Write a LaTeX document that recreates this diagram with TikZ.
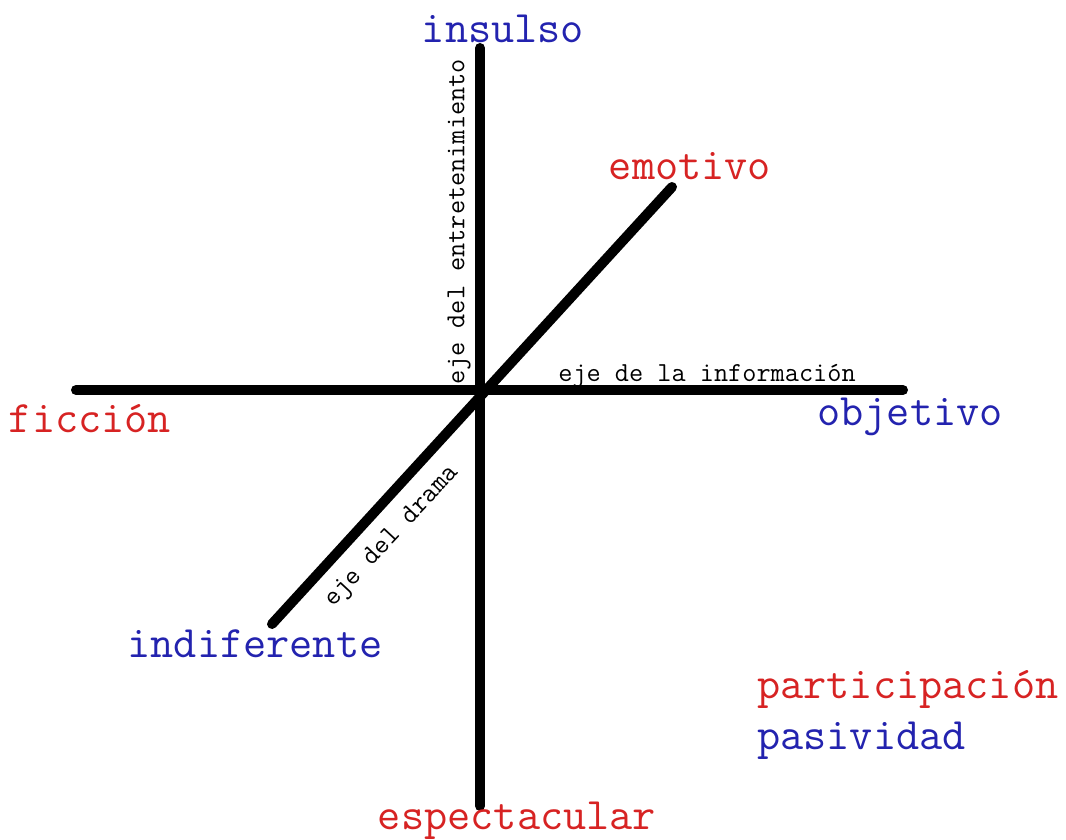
\documentclass[tikz,border=0pt]{standalone}
\usepackage{fontspec}
\definecolor{lred}{RGB}{215,35,35}
\definecolor{lblue}{RGB}{35,35,175}
\begin{document}
\begin{tikzpicture}[x=1pt,y=-1pt,
  axis/.style={line width=10pt,line cap=round,black},
  big/.style={font=\fontsize{45}{48}\selectfont\ttfamily,inner sep=0pt},
  small/.style={font=\fontsize{27.5}{30}\selectfont\ttfamily,inner sep=0pt},
  redlab/.style={big,text=lred},
  bluelab/.style={big,text=lblue}]
\useasboundingbox[fill=white] (0,0) rectangle (1066,839);
\coordinate (vtop) at (480,48);
\coordinate (vbot) at (480,806);
\coordinate (hl) at (76,390);
\coordinate (hr) at (903,390);
\coordinate (dl) at (272,624);
\coordinate (du) at (672,187);
\draw[axis] (vtop) -- (vbot);
\draw[axis] (hl) -- (hr);
\draw[axis] (dl) -- (du);
\node[bluelab] (insulso) at (503,29) {insulso};
\node[redlab] (emotivo) at (690,166) {emotivo};
\node[redlab] (ficcion) at (90,419) {ficción};
\node[bluelab] (objetivo) at (910,417) {objetivo};
\node[bluelab] (indif) at (255,644) {indiferente};
\node[redlab] (espect) at (517,821) {espectacular};
\node[redlab,anchor=west] (partic) at (757,689) {participación};
\node[bluelab,anchor=west] (pasiv) at (757,741) {pasividad};
\node[small] (einfo) at (707,376) {eje de la información};
\node[small,rotate=90] (eentre) at (459,222) {eje del entretenimiento};
\node[small,rotate=47] (edrama) at (392,537) {eje del drama};
\end{tikzpicture}
\end{document}
